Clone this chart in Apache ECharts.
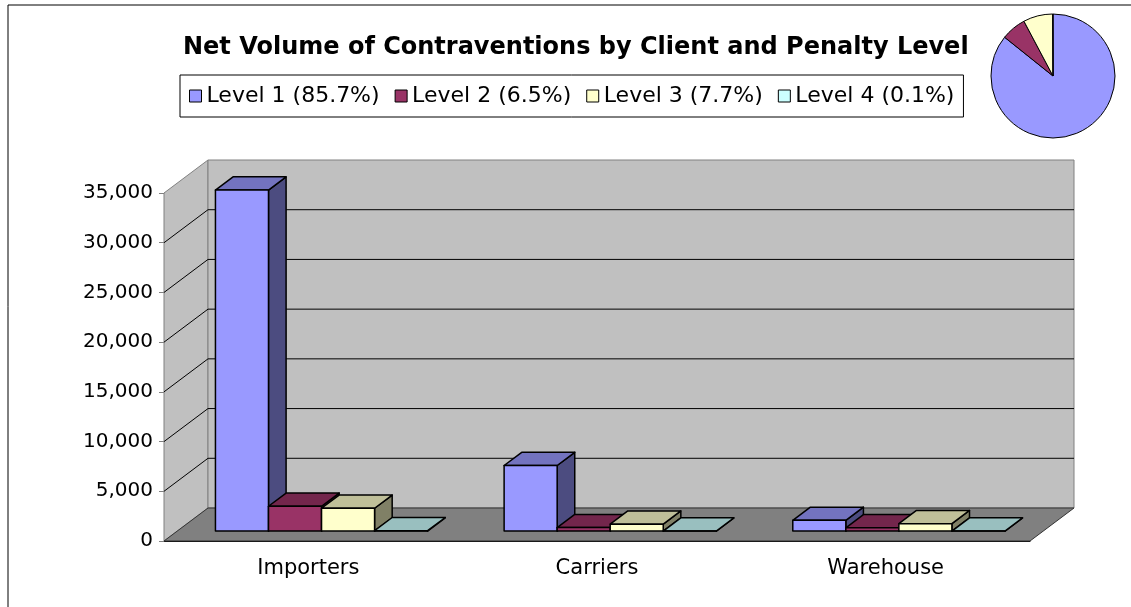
<!DOCTYPE html>
<html>
<head>
<meta charset="utf-8">
<title>Net Volume of Contraventions</title>
<script src="https://cdn.jsdelivr.net/npm/echarts@6/dist/echarts.min.js"></script>
<style>
  html, body { margin: 0; padding: 0; background: #fff; }
  #chart { width: 1131px; height: 607px; }
</style>
</head>
<body>
<div id="chart"></div>
<script>
// data
const categories = ['Importers', 'Carriers', 'Warehouse']
const levelNames = ['Level 1 (85.7%)', 'Level 2 (6.5%)', 'Level 3 (7.7%)', 'Level 4 (0.1%)']
const level1 = [34300, 6600, 1080]
const level2 = [2500, 350, 330]
const level3 = [2300, 700, 750]
const level4 = [40, 5, 5]
const yMin = 0
const yMax = 35000
const yStep = 5000

const levels = [level1, level2, level3, level4]

// front / top / side shades per level
const shades = [
  ['#9999FF', '#7373BF', '#4C4C80'],
  ['#993366', '#73264C', '#4C1933'],
  ['#FFFFCC', '#BFBF99', '#808066'],
  ['#CCFFFF', '#99BFBF', '#668080']
]

const DEPTH_X = 44 // wall depth in px
const DEPTH_Y = 33
const BAR_D0 = 0.3 // bars sit between these depth fractions
const BAR_D1 = 0.7
const GAP = 0.1325 // band fraction left empty on each side
const BAR_W = (1 - 2 * GAP) / 4

const FONT = 'DejaVu Sans'

function ticks() {
  const out = []
  for (let v = yMin; v <= yMax; v += yStep) out.push(v)
  return out
}

function renderWalls(params, api) {
  const cs = params.coordSys
  const x0 = cs.x
  const x1 = cs.x + cs.width
  const yTop = api.coord([0, yMax])[1]
  const yBot = api.coord([0, yMin])[1]
  const children = [
    { // left side wall
      type: 'polygon',
      shape: { points: [[x0, yBot], [x0, yTop], [x0 + DEPTH_X, yTop - DEPTH_Y], [x0 + DEPTH_X, yBot - DEPTH_Y]] },
      style: { fill: '#C0C0C0', stroke: '#808080', lineWidth: 1 }
    },
    { // back wall
      type: 'polygon',
      shape: { points: [[x0 + DEPTH_X, yBot - DEPTH_Y], [x0 + DEPTH_X, yTop - DEPTH_Y], [x1 + DEPTH_X, yTop - DEPTH_Y], [x1 + DEPTH_X, yBot - DEPTH_Y]] },
      style: { fill: '#C0C0C0', stroke: '#808080', lineWidth: 1 }
    },
    { // floor
      type: 'polygon',
      shape: { points: [[x0, yBot], [x1, yBot], [x1 + DEPTH_X, yBot - DEPTH_Y], [x0 + DEPTH_X, yBot - DEPTH_Y]] },
      style: { fill: '#808080', stroke: '#333', lineWidth: 1 }
    }
  ]
  ticks().forEach(v => {
    if (v === yMin || v === yMax) return
    const y = api.coord([0, v])[1]
    children.push({
      type: 'line',
      shape: { x1: x0, y1: y, x2: x0 + DEPTH_X, y2: y - DEPTH_Y },
      style: { stroke: '#000', lineWidth: 1 }
    })
    children.push({
      type: 'line',
      shape: { x1: x0 + DEPTH_X, y1: y - DEPTH_Y, x2: x1 + DEPTH_X, y2: y - DEPTH_Y },
      style: { stroke: '#000', lineWidth: 1 }
    })
  })
  return { type: 'group', children: children }
}

function makeBarRenderer(idx) {
  const sh = shades[idx]
  return function (params, api) {
    const c = api.value(0)
    const v = api.value(1)
    const band = api.size([1, 0])[0]
    const base = api.coord([c, 0])
    const top = api.coord([c, v])
    const w = band * BAR_W
    const x0 = base[0] - band / 2 + band * (GAP + idx * BAR_W) + BAR_D0 * DEPTH_X
    const x1 = x0 + w
    const yb = base[1] - BAR_D0 * DEPTH_Y
    const yt = top[1] - BAR_D0 * DEPTH_Y
    const dx = (BAR_D1 - BAR_D0) * DEPTH_X
    const dy = (BAR_D1 - BAR_D0) * DEPTH_Y
    const line = { stroke: '#000', lineWidth: 1.5, lineJoin: 'round' }
    return {
      type: 'group',
      children: [
        { type: 'polygon', shape: { points: [[x1, yb], [x1, yt], [x1 + dx, yt - dy], [x1 + dx, yb - dy]] }, style: Object.assign({ fill: sh[2] }, line) },
        { type: 'polygon', shape: { points: [[x0, yt], [x1, yt], [x1 + dx, yt - dy], [x0 + dx, yt - dy]] }, style: Object.assign({ fill: sh[1] }, line) },
        { type: 'polygon', shape: { points: [[x0, yb], [x1, yb], [x1, yt], [x0, yt]] }, style: Object.assign({ fill: sh[0] }, line) }
      ]
    }
  }
}

const chart = echarts.init(document.getElementById('chart'))

const barSeries = levels.map((vals, i) => ({
  name: levelNames[i],
  type: 'custom',
  coordinateSystem: 'cartesian2d',
  renderItem: makeBarRenderer(i),
  itemStyle: { color: shades[i][0] },
  encode: { x: 0, y: 1 },
  data: vals.map((v, c) => [c, v]),
  z: 3
}))

const pieData = levels.map((vals, i) => ({
  name: levelNames[i],
  value: vals.reduce((a, b) => a + b, 0),
  itemStyle: { color: shades[i][0] }
}))

chart.setOption({
  animation: false,
  textStyle: { fontFamily: FONT },
  graphic: [{
    type: 'rect',
    shape: { x: 8, y: 5, width: 1200, height: 700 },
    style: { fill: 'none', stroke: '#000', lineWidth: 1 },
    silent: true
  }],
  title: {
    text: 'Net Volume of Contraventions by Client and Penalty Level',
    left: 183,
    top: 36,
    padding: 0,
    textStyle: { fontFamily: FONT, fontSize: 24, fontWeight: 'bold', color: '#000' }
  },
  legend: {
    data: levelNames,
    left: 180,
    top: 75,
    padding: [10, 9, 10, 9],
    itemGap: 15,
    itemWidth: 12,
    itemHeight: 12,
    icon: 'rect',
    borderColor: '#000',
    borderWidth: 1,
    itemStyle: { borderColor: '#000', borderWidth: 1 },
    textStyle: { fontFamily: FONT, fontSize: 22, color: '#000' }
  },
  grid: { left: 164, right: 101, top: 193, bottom: 66 },
  xAxis: {
    type: 'category',
    data: categories,
    axisLine: { lineStyle: { color: '#000' } },
    axisTick: { length: 6, lineStyle: { color: '#000' } },
    axisLabel: { fontFamily: FONT, fontSize: 21, color: '#000', margin: 17 },
    splitLine: { show: false }
  },
  yAxis: {
    type: 'value',
    min: yMin,
    max: yMax,
    interval: yStep,
    axisLine: { show: true, lineStyle: { color: '#808080' } },
    axisTick: { show: true, length: 5, lineStyle: { color: '#808080' } },
    axisLabel: {
      fontFamily: FONT, fontSize: 20, color: '#000', margin: 11,
      formatter: v => v.toLocaleString('en-US')
    },
    splitLine: { show: false }
  },
  series: [
    {
      type: 'custom',
      coordinateSystem: 'cartesian2d',
      renderItem: renderWalls,
      data: [[0, 0]],
      silent: true,
      z: 1
    }
  ].concat(barSeries).concat([
    {
      type: 'pie',
      center: [1053, 76],
      radius: 62,
      startAngle: 90,
      clockwise: true,
      label: { show: false },
      labelLine: { show: false },
      itemStyle: { borderColor: '#000', borderWidth: 1 },
      data: pieData
    }
  ])
})
</script>
</body>
</html>
